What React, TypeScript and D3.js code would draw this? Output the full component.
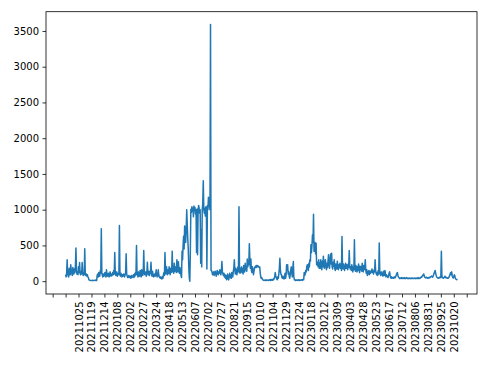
import React, { useEffect, useRef } from 'react';
import * as d3 from 'd3';

// daily values, index 0 = first day of the series
const values: number[] = [
  90, 60, 110, 300, 120, 70, 60, 180, 120, 90, 230, 150, 110, 80, 190, 140, 100, 170, 120, 210,
  465, 150, 100, 130, 90, 200, 120, 260, 110, 90, 140, 100, 260, 130, 80, 110, 90, 455, 120, 80,
  100, 70, 90, 60, 50,
  20, 15, 12, 10, 10, 8, 10, 12, 10, 8, 10, 12, 15, 10, 12, 10,
  80, 100, 60, 120, 90, 70, 150, 110, 735,
  120, 80, 60, 100, 70, 90, 120, 80, 60, 160, 100, 70, 90, 110, 60, 80, 130, 90, 70, 100,
  80, 120, 90, 150, 100, 400, 110, 80, 90, 130, 70, 100, 90, 120, 780,
  90, 70, 110, 80, 60, 90, 70, 100, 80, 60, 90, 120, 385, 100, 70, 50, 60, 80, 50, 70,
  60, 40, 80, 50, 70, 60, 90, 50, 100, 70, 120, 90, 500,
  110, 80, 60, 130, 90, 70, 150, 100, 60, 160, 120, 80, 110, 430, 140, 90, 100, 130, 70, 110,
  265, 120, 90, 140, 80, 110, 130, 265, 100, 70, 140, 90, 60, 80, 100, 70, 90, 160, 80, 60,
  70, 160, 90, 60, 50, 40, 60, 50, 30, 60, 40, 90, 120, 80,
  400, 150, 100, 200, 130, 90, 160, 110, 200, 140, 90, 180, 120, 150, 420, 130, 180, 110, 250, 140,
  200, 160, 120, 300, 180, 130, 270, 150, 110, 190, 140, 80, 50, 420, 300, 500, 630, 450, 770, 680,
  540, 720, 1000, 800, 600, 450, 200, 50, 0, 400,
  1005, 960, 1040, 980, 1020, 900, 1050, 990, 1030, 940, 1000, 400, 1010, 370, 980, 1060, 1020, 950, 1000, 250,
  720, 200, 1000, 1080, 1405, 1000, 950, 1020, 910, 1040, 980, 170, 1060, 1000, 1175, 1100, 1050, 1000, 3590, 150,
  150, 120, 90, 110, 130, 80, 100, 140, 110, 70, 120, 150, 100, 90, 130, 110, 160, 120, 90, 140,
  276, 130, 100, 80, 110, 60, 90, 40, 80, 20, 60, 100, 30, 18, 70, 110, 50, 90, 40, 120,
  80, 60, 140, 180, 300, 150, 100, 180, 120, 90, 150, 200, 130, 1040,
  150, 110, 180, 130, 200, 120, 170, 100, 220, 150, 130, 250, 160, 190, 140, 310, 200, 280, 230, 525,
  300, 180, 310, 150, 120, 200, 160, 90, 140, 180, 200, 210, 190, 220, 200, 220, 210, 200, 190, 200,
  120, 60, 40, 50, 30,
  20, 15, 10, 12, 15, 10, 20, 12, 10, 15, 18, 10, 12, 20, 15, 10, 25, 15, 20, 12,
  30, 20, 40, 60, 120, 80, 50, 30, 20, 60, 40, 100, 180, 320, 150, 100, 90, 50, 40, 70,
  50, 30, 60, 110, 40, 80, 230, 150, 230, 100, 135, 70, 40, 90, 150, 200, 120, 60, 180, 275,
  60, 20, 15, 10, 20, 12, 15, 10, 18, 12, 20, 10, 15, 12, 20, 15, 10, 18, 25, 20,
  120, 80, 100, 150, 130, 200, 230, 180, 150, 250, 200, 300, 280, 510, 400, 500, 650, 540, 935, 420,
  420, 540, 380, 530, 230, 270, 230, 200, 300, 180,
  250, 180, 300, 220, 160, 280, 200, 350, 240, 180, 260, 300, 200, 160, 250, 190, 280, 370, 220, 180,
  300, 380, 240, 390, 200, 170, 260, 210, 300, 180, 150, 240, 200, 170, 280, 210, 160, 230, 190, 250,
  180, 200, 150, 625, 220, 170, 240, 190, 150, 210, 250, 180, 230, 200, 160, 240, 190, 430, 210, 170,
  200, 150, 230, 180, 130, 200, 160, 580, 190, 140, 220, 170, 130, 200, 150, 240, 180, 120, 210, 160,
  200, 140, 250, 180, 130, 220, 160, 200, 300, 150, 110, 160, 80, 130, 100, 150, 90, 140, 110, 120,
  150, 170, 120, 140, 100, 160, 130, 300, 150, 110, 90, 120, 80, 150, 100, 535,
  120, 100, 80, 130, 90, 110, 70, 140, 90, 80, 150, 100, 60, 90, 70, 60, 50, 80, 110, 130,
  80, 50, 40, 60, 45, 50, 40, 55, 45, 60, 50, 70, 90, 110, 120, 80, 60, 50, 40, 35,
  45, 40, 50, 35, 45, 40, 38, 50, 42, 35, 45, 40, 50, 38, 42, 35, 40, 45, 38, 42,
  35, 40, 45, 38, 42, 36, 40, 44, 38, 42, 35, 40, 45, 38, 50, 42, 36, 45, 40, 50,
  60, 55, 70, 80, 90, 100, 70, 55, 50, 45, 55, 50, 45, 40, 50, 45, 55, 50, 60, 65,
  70, 60, 55, 70, 90, 110, 130, 150, 110, 80, 60, 50, 45, 40, 50, 45, 55, 60, 50, 420,
  80, 50, 45, 40, 50, 55, 70, 60, 45, 50, 45, 40, 50, 45, 60, 80, 100, 120, 90, 130,
  70, 50, 45, 60, 90, 75, 40, 30, 25, 20, 15,
];

// labels for the ticks at index 25, 50, ... 750
const tickLabels: string[] = [
  '20211025', '20211119', '20211214', '20220108', '20220202', '20220227', '20220324',
  '20220418', '20220513', '20220607', '20220702', '20220727', '20220821', '20220915',
  '20221010', '20221104', '20221129', '20221224', '20230118', '20230212', '20230309',
  '20230403', '20230428', '20230523', '20230617', '20230712', '20230806', '20230831',
  '20230925', '20231020',
];

const yTicks = [0, 500, 1000, 1500, 2000, 2500, 3000, 3500];

const App: React.FC = () => {
  const svgRef = useRef<SVGSVGElement>(null);

  useEffect(() => {
    const svg = d3.select(svgRef.current);
    svg.selectAll('*').remove();

    const left = 46, right = 477, top = 11.7, bottom = 294;
    const font = 'DejaVu Sans, sans-serif';
    const blue = '#1f77b4';

    // matplotlib-style 5% margins
    const n = values.length - 1;
    const x = d3.scaleLinear()
      .domain([-0.05 * n, 1.05 * n])
      .range([left, right]);

    const yMax = d3.max(values) || 0;
    const yMin = d3.min(values) || 0;
    const span = yMax - yMin;
    const y = d3.scaleLinear()
      .domain([yMin - 0.05 * span, yMax + 0.05 * span])
      .range([bottom, top]);

    const line = d3.line<number>()
      .x((_, i) => x(i))
      .y(d => y(d));

    svg.append('path')
      .datum(values)
      .attr('d', line)
      .attr('fill', 'none')
      .attr('stroke', blue)
      .attr('stroke-width', 1.5)
      .attr('stroke-linejoin', 'round');

    // x axis: ticks every 25 days
    const xTickVals = d3.range(-25, 800, 25);
    const xAxis = svg.append('g')
      .attr('transform', `translate(0,${bottom})`)
      .call(d3.axisBottom(x)
        .tickValues(xTickVals)
        .tickSize(3.5)
        .tickSizeOuter(0)
        .tickFormat((d: any) => tickLabels[d / 25 - 1] || ''));
    xAxis.select('.domain').remove();
    xAxis.selectAll('line').attr('stroke', '#000').attr('stroke-width', 0.8);
    xAxis.selectAll('text')
      .attr('transform', 'rotate(-90)')
      .attr('text-anchor', 'end')
      .attr('x', -7.5)
      .attr('y', 0)
      .attr('dy', '0.35em')
      .attr('fill', '#000')
      .style('font-family', font)
      .style('font-size', '10px');

    // y axis
    const yAxis = svg.append('g')
      .attr('transform', `translate(${left},0)`)
      .call(d3.axisLeft(y).tickValues(yTicks).tickSize(3.5).tickPadding(3.5).tickFormat(d3.format('d')));
    yAxis.select('.domain').remove();
    yAxis.selectAll('line').attr('stroke', '#000').attr('stroke-width', 0.8);
    yAxis.selectAll('text')
      .attr('fill', '#000')
      .style('font-family', font)
      .style('font-size', '10px');

    // frame
    svg.append('rect')
      .attr('x', left)
      .attr('y', top)
      .attr('width', right - left)
      .attr('height', bottom - top)
      .attr('fill', 'none')
      .attr('stroke', '#000')
      .attr('stroke-width', 0.8);
  }, []);

  return (
    <svg
      ref={svgRef}
      width={490}
      height={368}
      style={{ position: 'absolute', left: 0, top: 0, background: '#fff' }}
    />
  );
};

export default App;
